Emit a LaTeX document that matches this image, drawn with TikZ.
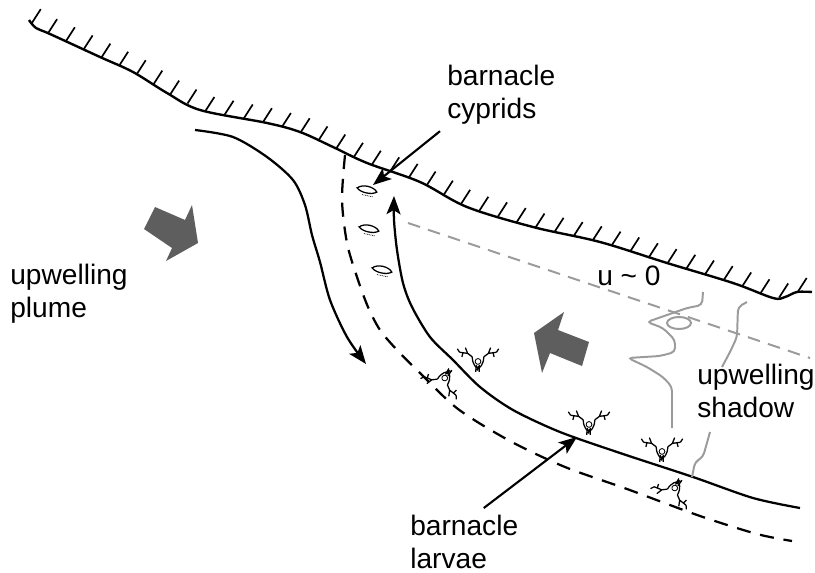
\documentclass[tikz,border=0pt]{standalone}
\usepackage{fontspec}
\setmainfont{Liberation Sans}
\usepackage{tikz}
\usetikzlibrary{arrows.meta, decorations.markings}
\definecolor{arrowgrey}{RGB}{94, 94, 94}
\definecolor{shadowgrey}{RGB}{155, 155, 155}

\tikzset{
  flow/.style={line width=1.6pt, -{Stealth[length=13pt, width=10pt, inset=3pt]}},
  pointer/.style={line width=1.5pt, -{Stealth[length=13pt, width=10pt, inset=3pt]}},
  edge/.style={line width=1.6pt, dash pattern=on 10pt off 7pt},
  note/.style={font=\fontsize{20}{23}\selectfont, align=left, inner sep=5pt, anchor=north west},
  hatching/.style={decorate, decoration={markings,
      mark=between positions 0.005 and 1 step 13.9pt with {\pgftransformresetnontranslations
        \draw [line width=1.2pt] (0,0) -- (9,-14);}}},
  bigarrow/.style={fill=arrowgrey},
  shadowline/.style={draw=shadowgrey, line width=1.4pt, rounded corners=3pt},
  cyprid/.pic={
    \draw [line width=0.9pt, rotate=-12] (-10,0) .. controls (-6,-5) and (6,-5) .. (10,0) .. controls (6,4) and (-6,4) .. cycle;
    \draw [line width=0.5pt, rotate=-12, dash pattern=on 0.6pt off 0.6pt] (-4,5.5) -- (7,5.5);
  },
  nauplius/.pic={
    \begin{scope}[scale=1.15, line width=0.9pt]
      \draw (-5,-1) .. controls (-5,6) and (-1,9) .. (0,9) .. controls (1,9) and (5,6) .. (5,-1);
      \draw [line width=0.6pt] (0,3) circle [radius=2.5];
      \draw (-1.5,6) -- (-2,12) (1,6) -- (1,12) (0,7) -- (-0.5,11);
      \draw (-5,-1) -- (-9,-4) -- (-16,-5) (-9,-4) -- (-11,-9) (-13,-5) -- (-14,-1) (-16,-5) -- (-18,-8);
      \draw (5,-1) -- (9,-4) -- (16,-5) (9,-4) -- (11,-9) (13,-5) -- (14,-1) (16,-5) -- (18,-8);
    \end{scope}
  }
}

\begin{document}
\begin{tikzpicture}[x=0.025cm, y=-0.025cm]
    \useasboundingbox (0,0) rectangle (815,572);

    % coastline, then its hatching along the same points
    \draw [line width=1.7pt] plot [smooth, tension=0.55] coordinates {(29,20) (36,28) (50,34) (100,57) (133,72) (167,93) (200,110) (267,123) (300,132) (333,147) (367,163) (420,182) (467,207) (533,227) (600,242) (667,263) (733,283) (773,298) (785,297) (797,292) (812,292)};
    \path [hatching] (29,20) -- (36,28) -- (50,34) -- (100,57) -- (133,72) -- (167,93) -- (200,110) -- (267,123) -- (300,132) -- (333,147) -- (367,163) -- (420,182) -- (467,207) -- (533,227) -- (600,242) -- (667,263) -- (733,283) -- (773,298) -- (785,297) -- (797,292) -- (812,292);

    % plume streamline and front
    \draw [flow] plot [smooth] coordinates {(195,130) (233,137) (267,157) (293,180) (305,205) (312,235) (320,262) (330,300) (347,337) (366,364)};
    \draw [edge] plot [smooth] coordinates {(345,155) (342,200) (347,243) (357,277) (368,307) (380,330) (397,350) (420,373) (458,409) (510,441) (565,467) (627,489) (700,516) (757,534) (792,541)};
    \draw [flow] plot [smooth] coordinates {(800,508) (753,498) (693,477) (620,453) (560,432) (513,410) (480,387) (453,360) (430,337) (412,307) (403,283) (397,250) (394,220) (394,196)};

    % shadow boundary
    \draw [shadowgrey, line width=1.4pt, dash pattern=on 9pt off 6pt] (408,223) -- (810,358);
    \draw [shadowline] (703,292) -- (702,305) -- (687,308) -- (647,322) -- (663,328) -- (675,340) -- (675,352) -- (660,356) -- (628,358) -- (647,367) -- (663,377) -- (672,387) -- (672,428);
    \draw [shadowline] (679,323) ellipse [x radius=12, y radius=6];
    \draw [shadowline] (747,302) -- (738,307) -- (737,337) -- (730,352) -- (722,367);
    \draw [shadowline] (710,432) -- (703,457) -- (695,462) -- (692,477);

    % flow arrows
    \fill [bigarrow] (144,229) -- (155,207) -- (185,220) -- (192,205) -- (198,243) -- (166,261) -- (172,248) -- cycle;
    \fill [bigarrow] (534,333) -- (564,312) -- (558,330) -- (589,342) -- (582,366) -- (550,353) -- (542,373) -- cycle;

    % cyprids and larvae
    \pic at (367,190) {cyprid};
    \pic at (369,229) {cyprid};
    \pic at (382,270) {cyprid};
    \pic at (478,358) {nauplius};
    \pic at (589,421) {nauplius};
    \pic at (662,448) {nauplius};
    \pic [rotate=150] at (443,381) {nauplius};
    \pic [rotate=150] at (673,491) {nauplius};

    \coordinate (cyptip) at (373,185);
    \coordinate (larvtip) at (577,437);

    \node [note] (plume) at (3,257) {upwelling\\plume};
    \node [note] (cyprids) at (440,58) {barnacle\\cyprids};
    \node [note] (larvae) at (403,508) {barnacle\\larvae};
    \node [note] (still) at (590,259) {u \textasciitilde{} 0};
    \node [note] (shadow) at (690,357) {upwelling\\shadow};

    \draw [pointer] (cyprids.south west) -- (cyptip);
    \draw [pointer] (larvae.60) -- (larvtip);
\end{tikzpicture}
\end{document}
